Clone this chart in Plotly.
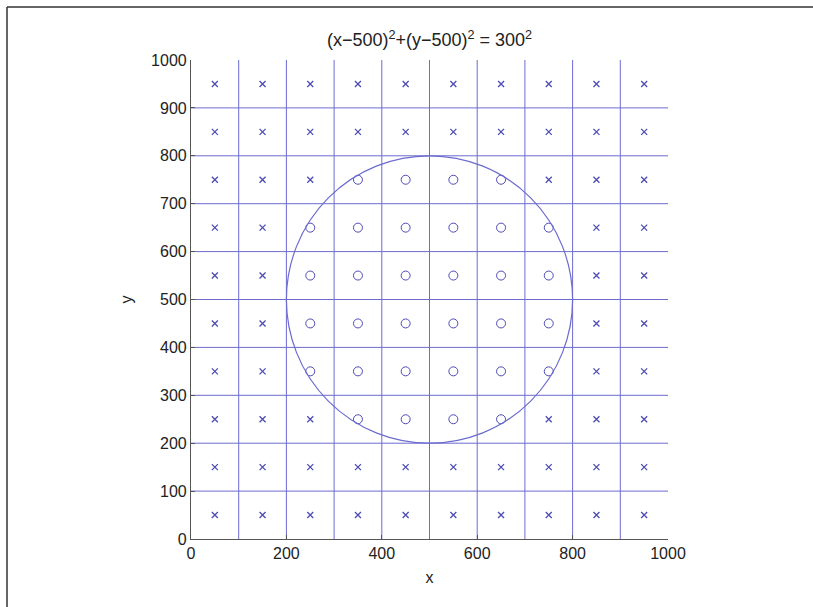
import plotly.graph_objects as go

# ---- data ----
CELL_CENTERS = [50, 150, 250, 350, 450, 550, 650, 750, 850, 950]
# marker type per cell, rows listed from y=950 (top) down to y=50 (bottom)
MARKS = [
    "xxxxxxxxxx",
    "xxxxxxxxxx",
    "xxxooooxxx",
    "xxooooooxx",
    "xxooooooxx",
    "xxooooooxx",
    "xxooooooxx",
    "xxxooooxxx",
    "xxxxxxxxxx",
    "xxxxxxxxxx",
]
GRID_VALUES = [100, 200, 300, 400, 500, 600, 700, 800, 900]
X_TICKS = [0, 200, 400, 600, 800, 1000]
Y_TICKS = [0, 100, 200, 300, 400, 500, 600, 700, 800, 900, 1000]
CENTER = (500, 500)
RADIUS = 300
TITLE = "(x\u2212500)<sup>2</sup>+(y\u2212500)<sup>2</sup> = 300<sup>2</sup>"

BLUE_LINE = "#6c6cd0"
BLUE_MARK = "#4c4cb4"
AXIS_COL = "#555555"
FONT = "Liberation Sans, Arial, sans-serif"

xs_in, ys_in, xs_out, ys_out = [], [], [], []
ys_top_down = CELL_CENTERS[::-1]
for r, row in enumerate(MARKS):
    for c, ch in enumerate(row):
        if ch == "o":
            xs_in.append(CELL_CENTERS[c]); ys_in.append(ys_top_down[r])
        else:
            xs_out.append(CELL_CENTERS[c]); ys_out.append(ys_top_down[r])

fig = go.Figure()

# grid lines (vertical & horizontal) from grid values
gx, gy = [], []
for g in GRID_VALUES:
    gx += [g, g, None]; gy += [0, 1000, None]
for g in GRID_VALUES:
    gx += [0, 1000, None]; gy += [g, g, None]
fig.add_trace(go.Scatter(x=gx, y=gy, mode="lines",
                         line=dict(color=BLUE_LINE, width=1),
                         hoverinfo="skip", showlegend=False))

fig.add_trace(go.Scatter(x=xs_out, y=ys_out, mode="markers",
                         marker=dict(symbol="x-thin-open", size=6, color=BLUE_MARK,
                                     line=dict(color=BLUE_MARK, width=1.3)),
                         showlegend=False))
fig.add_trace(go.Scatter(x=xs_in, y=ys_in, mode="markers",
                         marker=dict(symbol="circle-open", size=9,
                                     color=BLUE_MARK,
                                     line=dict(color=BLUE_MARK, width=1)),
                         showlegend=False))

fig.add_shape(type="circle", xref="x", yref="y",
              x0=CENTER[0] - RADIUS, y0=CENTER[1] - RADIUS,
              x1=CENTER[0] + RADIUS, y1=CENTER[1] + RADIUS,
              line=dict(color=BLUE_LINE, width=1.2))

W, H = 813, 607
L, R, T, B = 191, 145, 60, 68
pw, ph = W - L - R, H - T - B

def px(xp):
    return (xp - L) / pw

def py(yp):
    return (H - B - yp) / ph

# outer frame (left and top border)
fig.add_shape(type="line", xref="paper", yref="paper",
              x0=px(7), x1=px(7), y0=py(607), y1=py(7),
              line=dict(color="#333333", width=1.5))
fig.add_shape(type="line", xref="paper", yref="paper",
              x0=px(7), x1=px(813), y0=py(7), y1=py(7),
              line=dict(color="#333333", width=1.5))

fig.update_layout(
    width=W, height=H,
    margin=dict(l=L, r=R, t=T, b=B),
    paper_bgcolor="white", plot_bgcolor="white",
    font=dict(family=FONT, size=16, color="#222222"),
    title=dict(text=TITLE, x=(L + pw / 2) / W, xanchor="center",
               y=1 - 40 / H, yanchor="middle", yref="container",
               font=dict(size=18)),
    xaxis=dict(range=[0, 1000], tickvals=X_TICKS, ticktext=[str(v) for v in X_TICKS],
               showgrid=False, zeroline=False, showline=True, linecolor=AXIS_COL,
               linewidth=1.2, ticks="inside", ticklen=4, tickcolor=AXIS_COL,
               tickfont=dict(size=16),
               title=dict(text="x", standoff=10, font=dict(size=16))),
    yaxis=dict(range=[0, 1000], tickvals=Y_TICKS, ticktext=[str(v) for v in Y_TICKS],
               showgrid=False, zeroline=False, showline=True, linecolor=AXIS_COL,
               linewidth=1.2, ticks="inside", ticklen=4, tickcolor=AXIS_COL,
               tickfont=dict(size=16),
               title=dict(text="y", standoff=14, font=dict(size=16))),
)

fig.write_html("out.html")
